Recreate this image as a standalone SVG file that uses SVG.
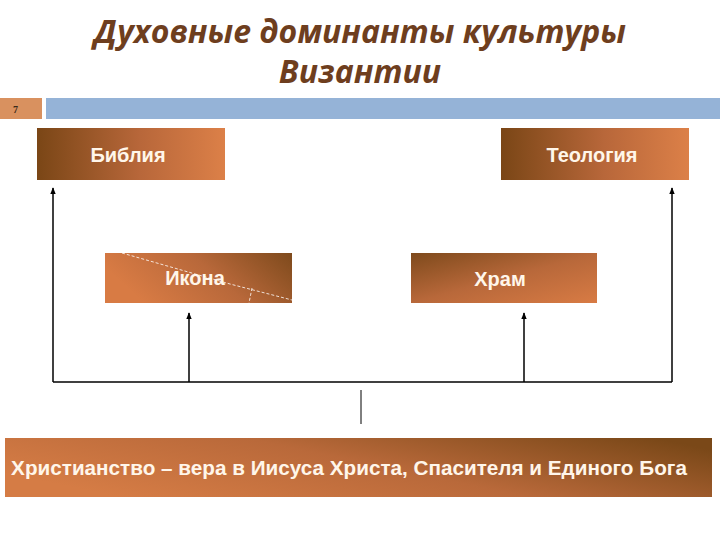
<svg xmlns="http://www.w3.org/2000/svg" width="720" height="540" viewBox="0 0 720 540">
<defs>
<linearGradient id="gR" x1="0" y1="0" x2="1" y2="0">
<stop offset="0" stop-color="#7a4616"/><stop offset="0.55" stop-color="#b8673a"/><stop offset="1" stop-color="#dc8048"/>
</linearGradient>
<linearGradient id="gL" x1="0" y1="0.3" x2="1" y2="0">
<stop offset="0" stop-color="#d87b44"/><stop offset="0.5" stop-color="#b8683a"/><stop offset="1" stop-color="#7e4a1c"/>
</linearGradient>
<linearGradient id="gD" x1="0" y1="0" x2="1" y2="1">
<stop offset="0" stop-color="#7e4a1c"/><stop offset="0.5" stop-color="#b8683a"/><stop offset="1" stop-color="#d87b44"/>
</linearGradient>
<linearGradient id="gB" x1="0" y1="0.6" x2="1" y2="0.2">
<stop offset="0" stop-color="#d57c45"/><stop offset="0.5" stop-color="#b9693a"/><stop offset="1" stop-color="#7a4818"/>
</linearGradient>
<marker id="ah" viewBox="0 0 10 10" refX="9" refY="5" markerWidth="7" markerHeight="7" orient="auto" markerUnits="userSpaceOnUse">
<path d="M0,1 L10,5 L0,9 z" fill="#000"/>
</marker>
<style>
.title{font-family:"Open Sans","DejaVu Sans",sans-serif;font-style:italic;font-weight:bold;font-size:32px;fill:#6e3e1e;text-anchor:middle}
.lbl{font-family:"Liberation Sans",Arial,sans-serif;font-weight:bold;font-size:20px;fill:#fff6ea;text-anchor:middle}
.big{font-size:20.7px}
.con{stroke:#000;stroke-width:1.5;fill:none}
</style>
</defs>
<rect width="720" height="540" fill="#fff"/>
<text class="title" x="360" y="43">Духовные доминанты культуры</text>
<text class="title" x="360" y="83">Византии</text>
<g id="header">
<rect x="0" y="98" width="42" height="21" fill="#d9915f"/>
<text x="13" y="113" font-family="Liberation Serif,serif" font-size="10" font-weight="bold" fill="#3a2a1a">7</text>
<rect x="46" y="98" width="674" height="21" fill="#95b3d7"/>
</g>
<g id="bible"><rect x="37" y="128" width="188" height="52" fill="url(#gR)"/><text class="lbl" x="128" y="162">Библия</text></g>
<g id="theology"><rect x="501" y="128" width="188" height="52" fill="url(#gR)"/><text class="lbl" x="592" y="162">Теология</text></g>
<g id="icon"><rect x="105" y="253" width="187" height="50" fill="url(#gL)"/><text class="lbl" x="195" y="285">Икона</text>
<path d="M122,253 L230,284 L292,300 M252,288 L249,303" stroke="#fff" stroke-width="1" stroke-dasharray="3,2" fill="none" opacity="0.8"/></g>
<g id="temple"><rect x="411" y="253" width="186" height="50" fill="url(#gD)"/><text class="lbl" x="500" y="286">Храм</text></g>
<g id="christianity"><rect x="5" y="438" width="707" height="59" fill="url(#gB)"/><text class="lbl big" x="349" y="475">Христианство – вера в Иисуса Христа, Спасителя и Единого Бога</text></g>
<g id="connectors">
<path class="con" d="M53,382 L672,382"/>
<path class="con" d="M53,382 L53,188" marker-end="url(#ah)"/>
<path class="con" d="M189,382 L189,313" marker-end="url(#ah)"/>
<path class="con" d="M524,382 L524,313" marker-end="url(#ah)"/>
<path class="con" d="M672,382 L672,188" marker-end="url(#ah)"/>
<path class="con" d="M361,390 L361,424" style="stroke-width:1"/>
</g>
</svg>
